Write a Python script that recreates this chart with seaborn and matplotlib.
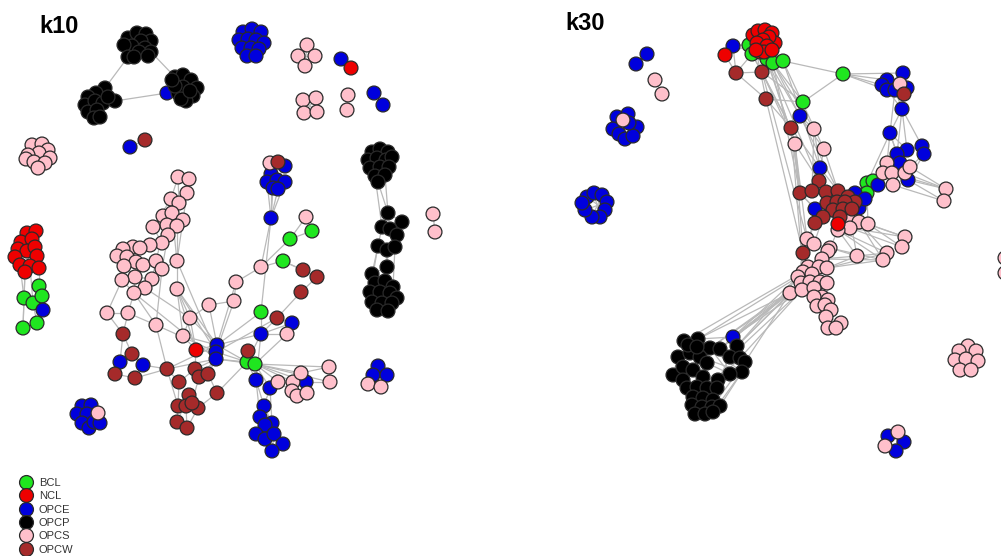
import re
import numpy as np
import pandas as pd
import matplotlib
matplotlib.use("Agg")
import matplotlib.pyplot as plt
from matplotlib.collections import LineCollection
import seaborn as sns

# ---------------- categories / colours ----------------
groups = ["BCL", "NCL", "OPCE", "OPCP", "OPCS", "OPCW"]
group_colors = ["#1fe61f", "#ee0000", "#0000dd", "#000000", "#ffc0cb", "#a52a2a"]
draw_rank = ["BCL", "OPCE", "OPCS", "OPCW", "NCL", "OPCP"]
panel_titles = ["k10", "k30"]

# ---------------- k10 network: node layout ----------------
k10_bt = [(128, 38), (137, 33), (146, 34), (151, 41), (141, 41), (132, 46), (124, 45),
          (145, 48), (151, 52), (139, 52), (128, 57), (134, 57), (148, 56)]
k10_bl = [(105, 88), (96, 93), (88, 97), (85, 105), (95, 101), (103, 103), (115, 101),
          (88, 112), (97, 110), (94, 118), (100, 117), (108, 97)]
k10_br = [(175, 77), (183, 75), (191, 80), (197, 88), (193, 96), (186, 101), (178, 93),
          (183, 87), (175, 86), (181, 99), (190, 91), (172, 80)]
k10_bct = [(372, 152), (380, 149), (388, 152), (368, 160), (377, 158), (386, 160), (392, 157),
           (370, 168), (380, 167), (389, 167), (375, 176), (385, 175), (378, 182)]
k10_bcm = [(388, 213), (382, 227), (402, 222), (390, 229), (397, 235), (378, 246), (387, 250),
           (395, 247), (387, 267), (372, 274)]
k10_bcb = [(375, 283), (385, 281), (393, 287), (370, 292), (380, 292), (390, 293), (397, 298),
           (372, 302), (382, 303), (392, 303), (377, 310), (388, 311)]
k10_tb = [(243, 32), (252, 29), (261, 32), (239, 40), (248, 39), (256, 40), (264, 43),
          (242, 48), (251, 48), (259, 49), (247, 56), (256, 56)]
k10_bx = [(167, 93), (341, 59), (374, 93), (383, 105), (130, 147), (43, 310)]
k10_bu = [(285, 166), (271, 174), (267, 182), (277, 180), (285, 182), (273, 188), (278, 189)]
k10_bm = [(120, 362), (143, 365), (217, 345), (216, 352), (216, 359), (261, 334), (292, 323),
          (256, 380), (270, 388), (306, 382), (271, 218)]
k10_bb = [(264, 406), (260, 417), (272, 423), (265, 425), (256, 434), (265, 439), (274, 434),
          (283, 444), (272, 451)]
k10_blb = [(82, 406), (91, 405), (77, 414), (87, 414), (82, 423), (89, 428), (94, 422), (100, 423)]
k10_rcb = [(378, 366), (373, 375), (387, 375)]
k10_rx = [(351, 68), (196, 350)]
k10_red = [(27, 233), (36, 231), (21, 242), (32, 239), (18, 249), (27, 251), (35, 247),
           (15, 257), (37, 256), (20, 265), (30, 266), (39, 268), (25, 272)]
k10_gr = [(39, 286), (24, 298), (33, 303), (42, 296), (23, 328), (37, 323)]
k10_gm = [(261, 312), (247, 362), (255, 364), (312, 231), (290, 239), (283, 261)]
k10_pa = [(307, 45), (298, 56), (315, 56), (305, 66), (303, 100), (316, 98), (304, 113),
          (317, 112), (348, 95), (347, 110), (433, 214), (435, 232)]
k10_pl = [(32, 145), (42, 144), (48, 150), (39, 153), (28, 155), (50, 158), (26, 159),
          (34, 162), (45, 163), (38, 168)]
k10_pk = [(178, 177), (189, 179), (187, 193), (171, 199), (179, 203), (163, 216), (172, 213),
          (183, 220), (167, 225), (177, 226), (153, 227), (168, 235), (162, 243), (150, 245),
          (133, 247), (140, 248), (123, 249), (117, 256), (127, 257), (136, 262), (143, 265),
          (124, 266), (156, 261), (162, 269), (177, 261), (135, 277), (122, 280), (152, 279),
          (145, 288), (134, 293), (177, 289), (107, 313), (128, 313), (156, 325), (190, 318),
          (183, 336), (209, 305), (234, 301), (236, 282), (261, 267)]
k10_pr = [(287, 334), (278, 382), (293, 382), (301, 373), (292, 391), (297, 396), (307, 393),
          (329, 367), (330, 382)]
k10_px = [(306, 217), (270, 163), (98, 413), (368, 384), (381, 387)]
k10_bw = [(123, 334), (132, 354), (115, 374), (135, 378), (167, 369), (179, 382), (195, 369),
          (199, 377), (208, 374), (217, 393), (189, 395), (178, 406), (186, 406), (198, 408),
          (192, 403), (177, 422), (187, 428), (277, 318), (248, 351), (301, 292), (317, 277),
          (303, 270)]
k10_wx = [(145, 140), (278, 162)]

k10_clusters = {
    "bt": ("OPCP", k10_bt), "bl": ("OPCP", k10_bl), "br": ("OPCP", k10_br),
    "bct": ("OPCP", k10_bct), "bcm": ("OPCP", k10_bcm), "bcb": ("OPCP", k10_bcb),
    "tb": ("OPCE", k10_tb), "bx": ("OPCE", k10_bx), "bu": ("OPCE", k10_bu),
    "bm": ("OPCE", k10_bm), "bb": ("OPCE", k10_bb), "blb": ("OPCE", k10_blb),
    "rcb": ("OPCE", k10_rcb), "rx": ("NCL", k10_rx), "red": ("NCL", k10_red),
    "gr": ("BCL", k10_gr), "gm": ("BCL", k10_gm), "pa": ("OPCS", k10_pa),
    "pl": ("OPCS", k10_pl), "pk": ("OPCS", k10_pk), "pr": ("OPCS", k10_pr),
    "px": ("OPCS", k10_px), "bw": ("OPCW", k10_bw), "wx": ("OPCW", k10_wx),
}

k10_edges = """
pa0-pa3 pa1-pa2 pa0-pa1 pa4-pa7 pa5-pa6 pa8-pa9 pa10-pa11 bx1-rx0 bx2-bx3 bx4-wx0
bt10-bl0 bt8-br0 bl6-bx0 bx0-br8 bt0-bt4 bt4-bt7 bt5-bt9 bt9-bt11 bt1-bt4
bl0-bl4 bl4-bl6 bl1-bl5 bl5-bl8 br0-br7 br7-br10 br6-br9 tb1-tb4 tb4-tb8 tb8-tb10
pl0-pl3 pl1-pl4 pl4-pl8
red0-red3 red3-red5 red2-red4 red4-red7 red5-red9 red6-red8 red8-red11 red9-red12
red12-gr1 red10-gr2 red11-gr0 red9-gr1 red12-gr4 gr1-gr4 gr2-gr5 gr0-gr3 gr3-bx5 gr1-gr2
bct4-bct9 bct9-bct11 bct12-bcm0 bct11-bcm0 bct10-bcm1 bcm0-bcm1 bcm0-bcm2 bcm1-bcm3
bcm3-bcm4 bcm1-bcm5 bcm5-bcm6 bcm6-bcm7 bcm4-bcm7 bcm6-bcm8 bcm8-bcm9 bcm5-bcm9
bcm2-bcm4 bcm9-bcb0 bcm8-bcb1 bcm5-bcb3 bcm7-bcb2 bcm6-bcb1 bcm9-bcb3 bcb4-bcb8 bcb1-bcb4
pk0-pk1 pk0-pk3 pk0-pk4 pk1-pk2 pk2-pk4 pk2-pk7 pk3-pk6 pk4-pk6 pk4-pk9 pk5-pk6 pk5-pk8
pk6-pk7 pk7-pk9 pk8-pk9 pk8-pk11 pk9-pk11 pk10-pk12 pk10-pk5 pk11-pk12 pk12-pk13
pk13-pk15 pk14-pk15 pk14-pk16 pk15-pk18 pk16-pk17 pk17-pk18 pk18-pk19 pk19-pk20
pk17-pk21 pk21-pk25 pk19-pk25 pk20-pk22 pk22-pk23 pk23-pk24 pk24-pk30 pk22-pk27
pk25-pk27 pk27-pk28 pk28-pk29 pk25-pk29 pk26-pk29 pk26-pk31 pk31-pk32 pk29-pk32
pk32-pk33 pk21-pk26 pk3-pk10 pk12-pk14 pk3-pk22 pk6-pk24 pk9-pk24 pk11-pk23 pk30-pk35
pk28-pk34 pk34-pk35 pk30-pk34 pk36-pk37 pk37-pk38 pk36-pk34 pk38-pk39 pk23-pk33
pk29-pk33 pk7-pk24
bw0-pk31 bw0-pk32 bw0-bw1 bw1-bm0 bw1-bm1 bw2-bm0 bw2-bw3 bw3-bm1 bm1-bw4 bw3-bw4
bw0-bm0 bw4-bm2 bw4-bw5 bw5-bw6 bw6-bw7 bw7-bw8 bw6-rx1 bw7-bw14 bw14-bw10 bw14-bw12
bw12-bw13 bw11-bw15 bw12-bw16 bw15-bw16 bw10-bw15 bw13-bw16 bw11-bw14 bw9-gm1 bw9-bw13
bw8-bm3 bw7-bm4 bw5-bw11 bw4-bw11 bw8-bw9 rx1-bm2 rx1-bm3 rx1-pk34 rx1-pk35 rx1-pk30
bw4-pk33
bm2-pk34 bm2-pk36 bm2-pk35 bm3-pk30 bm2-pk38 bm3-gm1 bm2-gm1 bm4-gm2 bm4-bw4 bm3-pk33
bm2-bm3 bm3-bm4 bm4-bw8 bm2-bm5 bm3-pk37 pk30-bm2 pk24-bm3 pk29-bm4 bm4-bw6 bm3-bw17
bm2-gm0
gm1-gm2 gm1-bw18 gm2-bw18 gm2-pr0 gm2-pr7 gm2-pr8 gm2-pr3 gm1-bm7 gm2-bm8 gm2-pr2
gm2-pr1 gm1-bm5 bm5-gm0 bm5-pr0 bm5-bm6 bm5-bm7 gm0-bm10 bm5-bw17 bw17-bw19 bw19-bw20
bw20-bw21 bw21-gm5 gm5-pk39 pk39-gm4 gm4-gm3 gm4-px0 pk39-bm10 bw20-gm5 bm6-pr0
bm6-bw17 gm1-bm4 gm2-bm9
bu5-bm10 bu6-bm10 bu2-bm10 bu4-bm10 bu1-bm10 bu0-bu3 px1-bu1 wx1-bu3 bu3-bu5
pr1-pr2 pr2-pr4 pr3-bm9 bm9-pr6 pr4-pr5 pr5-pr6 pr3-pr7 pr2-pr8 bm8-pr1 bm7-bm8
bm7-bb0 bm7-bb1 bm8-bb0 pr7-pr8 pr2-pr3 pr1-pr4
bb0-bb1 bb1-bb2 bb1-bb3 bb3-bb4 bb3-bb5 bb2-bb6 bb6-bb7 bb5-bb8 bb6-bb8 bb0-bb2 bm8-bb2
blb0-blb3 blb1-blb3 blb3-blb6 blb2-blb4 px2-blb6
rcb0-rcb1 rcb0-rcb2 rcb1-px3 rcb2-px4
"""

# ---------------- k30 network: node layout ----------------
k30_Tg = [(749, 45), (752, 54), (767, 59), (773, 63), (783, 61), (843, 74), (803, 102),
          (867, 183), (873, 181), (867, 193)]
k30_Tr = [(753, 35), (758, 31), (765, 30), (772, 33), (775, 43), (769, 37), (763, 40),
          (757, 43), (767, 46), (760, 52), (764, 52), (772, 50), (756, 50), (725, 55), (838, 224)]
k30_Tb = [(733, 46), (800, 116), (820, 168), (815, 209), (855, 193), (859, 208), (865, 199)]
k30_Tbr = [(903, 73), (887, 80), (882, 85), (887, 90), (895, 90), (907, 88), (902, 109), (890, 133)]
k30_Tbm = [(922, 146), (924, 154), (907, 150), (897, 154), (900, 163), (908, 180), (878, 185)]
k30_Tbk = [(733, 337)]
k30_Tbp = [(647, 54), (636, 64)]
k30_Tbq = [(617, 117), (628, 114), (637, 127), (613, 129), (619, 134), (625, 139), (633, 136), (629, 123)]
k30_Tbz = [(587, 197), (594, 193), (602, 195), (607, 202), (605, 210), (600, 217), (592, 217),
           (585, 210), (582, 203)]
k30_Tbx = [(888, 436), (904, 442), (896, 451)]
k30_Tw = [(736, 73), (762, 72), (766, 99), (791, 128), (904, 94), (819, 181), (800, 193),
          (812, 191), (826, 192), (838, 191), (848, 197), (855, 202), (827, 203), (837, 202),
          (845, 202), (833, 210), (843, 209), (852, 209), (840, 217), (823, 217), (815, 223),
          (803, 253)]
k30_Tp = [(814, 129), (795, 144), (824, 149), (887, 163), (883, 173), (892, 173), (905, 173),
          (893, 185), (910, 167), (946, 189), (944, 201), (900, 84), (850, 218), (859, 222),
          (868, 224), (850, 228), (838, 230), (807, 239), (814, 244), (830, 248), (857, 256),
          (905, 237), (902, 247), (887, 253), (883, 260), (828, 251), (822, 259), (808, 267),
          (819, 267), (827, 268), (803, 272), (812, 274), (798, 277), (801, 283), (810, 282),
          (820, 282), (827, 283), (790, 293), (802, 290), (814, 288), (822, 297), (814, 297),
          (828, 300), (817, 306), (825, 305), (831, 310), (826, 317), (841, 323), (828, 328),
          (836, 328)]
k30_Tpi = [(655, 80), (662, 94), (623, 120), (898, 432), (885, 446), (1005, 258), (1005, 273)]
k30_Tpc = [(968, 346), (976, 351), (959, 351), (955, 360), (966, 359), (978, 361), (960, 370), (971, 370)]
k30_Tk = [(684, 341), (698, 339), (710, 348), (720, 349), (737, 346), (678, 357), (690, 353),
          (700, 357), (707, 363), (730, 357), (740, 358), (745, 362), (742, 372), (730, 374),
          (718, 380), (673, 375), (683, 367), (693, 370), (703, 377), (683, 380), (687, 388),
          (697, 387), (707, 388), (717, 388), (693, 397), (703, 398), (713, 400), (692, 405),
          (702, 407), (712, 407), (720, 406), (695, 414), (705, 414), (713, 412), (688, 345),
          (697, 347)]

k30_clusters = {
    "Tg": ("BCL", k30_Tg), "Tr": ("NCL", k30_Tr), "Tb": ("OPCE", k30_Tb),
    "Tbr": ("OPCE", k30_Tbr), "Tbm": ("OPCE", k30_Tbm), "Tbk": ("OPCE", k30_Tbk),
    "Tbp": ("OPCE", k30_Tbp), "Tbq": ("OPCE", k30_Tbq), "Tbz": ("OPCE", k30_Tbz),
    "Tbx": ("OPCE", k30_Tbx), "Tw": ("OPCW", k30_Tw), "Tp": ("OPCS", k30_Tp),
    "Tpi": ("OPCS", k30_Tpi), "Tpc": ("OPCS", k30_Tpc), "Tk": ("OPCP", k30_Tk),
}

k30_edges = """
Tr13-Tw0 Tr13-Tb0 Tr13-Tg0 Tb0-Tg0 Tb0-Tw0 Tw0-Tw1 Tw0-Tg1 Tw1-Tg1 Tw1-Tg2 Tw0-Tw2
Tw2-Tg6 Tg6-Tg5 Tg4-Tg5 Tg3-Tg4 Tg2-Tg3 Tg1-Tg2 Tg0-Tr7 Tg1-Tr12 Tg2-Tr10 Tg3-Tr11
Tg4-Tr11 Tg5-Tbr1 Tg5-Tbr2 Tg5-Tbr3 Tg5-Tbr0 Tg6-Tb1 Tg6-Tg3 Tg6-Tw1 Tb0-Tr7
Tr0-Tr6 Tr1-Tr5 Tr2-Tr8 Tr3-Tr11 Tr4-Tr10 Tr7-Tr9 Tr6-Tr8
Tw1-Tw3 Tw2-Tw3 Tg2-Tb1 Tg3-Tp0 Tg4-Tp2 Tg2-Tw5 Tg3-Tw6 Tw1-Tp1 Tw3-Tp1 Tw3-Tb2
Tb1-Tp0 Tb1-Tp2 Tp0-Tb2 Tp2-Tb2 Tp1-Tw6 Tp1-Tw5 Tp0-Tw7 Tp2-Tw9 Tb2-Tw5 Tb2-Tw8
Tw3-Tw6 Tg1-Tw3 Tg2-Tp1 Tw1-Tp17 Tw2-Tw21 Tp1-Tp17 Tw3-Tp30 Tp1-Tw21 Tg4-Tb2 Tg3-Tw9
Tr10-Tp1 Tr12-Tw2
Tbr0-Tbr4 Tbr1-Tbr3 Tbr2-Tbr4 Tbr3-Tbr6 Tbr4-Tbr6 Tbr5-Tbr6 Tbr0-Tbr6 Tbr6-Tbr7
Tbr4-Tbr7 Tbr7-Tbm2 Tbr7-Tbm3 Tbr7-Tbm4 Tbr6-Tbm2 Tbr6-Tbm3 Tbr7-Tg7 Tbr7-Tp3
Tbr6-Tbm0 Tp11-Tbr4 Tw4-Tbr5 Tw4-Tbr3
Tbm0-Tbm1 Tbm0-Tbm2 Tbm2-Tbm3 Tbm3-Tp3 Tbm3-Tbm4 Tp3-Tp4 Tp4-Tp5 Tp5-Tp6 Tp6-Tbm5
Tp7-Tbm6 Tp5-Tp7 Tbm4-Tp8 Tbm1-Tp8 Tp6-Tp9 Tp7-Tp10 Tp5-Tp9 Tbm5-Tp10 Tbm5-Tp9
Tp8-Tp9 Tbm1-Tbm5
Tg7-Tg8 Tg7-Tg9 Tg8-Tg9 Tg9-Tw11 Tg7-Tb6 Tg8-Tp4 Tg8-Tbm6 Tg9-Tb5 Tg7-Tbm6 Tg9-Tw17
Tg7-Tw10 Tg8-Tp3 Tg7-Tb4 Tg9-Tp14
Tw5-Tw8 Tw6-Tw7 Tw7-Tw8 Tw8-Tw9 Tw9-Tw10 Tw10-Tw11 Tw12-Tw13 Tw13-Tw14 Tw15-Tw16
Tw16-Tw17 Tw18-Tw19 Tw19-Tw20 Tw12-Tw15 Tw13-Tw16 Tw15-Tw18 Tw8-Tw12 Tw9-Tw13
Tw10-Tw14 Tw11-Tw17 Tw14-Tw17 Tw6-Tw19 Tw3-Tw6 Tb2-Tw9 Tb3-Tw6 Tb3-Tw20 Tb4-Tw11
Tb5-Tw17 Tb2-Tw5 Tw5-Tw7 Tb6-Tw11
Tr14-Tp16 Tr14-Tw18 Tw18-Tp12 Tw17-Tp13 Tw17-Tp14 Tp12-Tp15 Tp15-Tp16 Tw20-Tp17
Tp17-Tp18 Tp18-Tp19 Tp16-Tp19 Tp14-Tp21 Tp14-Tp22 Tp13-Tp23 Tp13-Tp24 Tp12-Tp20
Tp20-Tp23 Tp19-Tp20 Tp21-Tp22 Tp23-Tp24 Tp15-Tp21 Tp16-Tp20 Tp16-Tp24 Tp19-Tp24
Tw21-Tp17 Tp15-Tp22 Tp12-Tp21 Tw19-Tp18 Tp16-Tp23 Tw20-Tw21
Tp18-Tp25 Tp19-Tp25 Tp25-Tp26 Tp26-Tp28 Tp26-Tp29 Tp27-Tp28 Tp27-Tp30 Tp30-Tp31
Tp31-Tp34 Tp32-Tp33 Tp33-Tp34 Tp34-Tp35 Tp35-Tp36 Tp30-Tp32 Tp33-Tp37 Tp37-Tp38
Tp38-Tp39 Tp39-Tp40 Tp40-Tp41 Tp41-Tp43 Tp40-Tp42 Tp42-Tp45 Tp43-Tp44 Tp44-Tp45
Tp45-Tp46 Tp46-Tp47 Tp46-Tp48 Tp48-Tp49 Tp47-Tp49 Tp28-Tp35 Tp29-Tp36 Tw21-Tp32
Tw21-Tp27 Tp19-Tp26 Tp20-Tp26 Tp24-Tp26 Tp23-Tp29 Tp20-Tp29 Tp25-Tp28 Tp31-Tp39
Tp35-Tp40 Tp36-Tp42 Tp38-Tp41 Tp19-Tp28 Tp24-Tp29
Tbk0-Tp37 Tbk0-Tp33 Tbk0-Tp32 Tbk0-Tp38 Tk4-Tp37 Tk4-Tp33 Tk3-Tp37 Tk10-Tp38
Tk1-Tp32 Tk0-Tp30 Tk2-Tp37 Tk3-Tp33 Tk11-Tp37 Tk4-Tp30 Tk2-Tp33 Tbk0-Tk3 Tbk0-Tk4
Tbk0-Tk1 Tk1-Tp37 Tk9-Tp38
Tk2-Tk13 Tk3-Tk13 Tk9-Tk14 Tk7-Tk12 Tk8-Tk13 Tk2-Tk12 Tk14-Tk26 Tk13-Tk23 Tk12-Tk30
Tk11-Tk29 Tk4-Tk12 Tk10-Tk14 Tk0-Tk1 Tk1-Tk2 Tk5-Tk15 Tk16-Tk20 Tk18-Tk25 Tk21-Tk27
Tk22-Tk28 Tk12-Tk33
Tbz0-Tbz4 Tbz2-Tbz6 Tbz1-Tbz5 Tbz3-Tbz7 Tbq0-Tbq6 Tbq1-Tbq4 Tpi2-Tbq5 Tbq3-Tbq7
Tbx0-Tbx1 Tpi3-Tbx2 Tpi4-Tbx1 Tbp0-Tbp1 Tpi0-Tpi1 Tpi5-Tpi6 Tpc0-Tpc6 Tpc2-Tpc5 Tpc1-Tpc7
"""

# ---------------- assemble ----------------
rows = []
lookup = {}
for panel, clusters in ((panel_titles[0], k10_clusters), (panel_titles[1], k30_clusters)):
    for name, (grp, pts) in clusters.items():
        for i, (px, py) in enumerate(pts):
            lookup[f"{name}{i}"] = (px, py)
            rows.append({"panel": panel, "x": px, "y": py, "group": grp})
nodes = pd.DataFrame(rows)
nodes["rank"] = nodes["group"].map({g: i for i, g in enumerate(draw_rank)})
nodes = nodes.sort_values("rank", kind="stable")

segments = []
for txt in (k10_edges, k30_edges):
    for tok in txt.split():
        a, b = tok.split("-")
        segments.append([lookup[a], lookup[b]])

# ---------------- draw ----------------
sns.set_theme(style="white")
plt.rcParams["font.family"] = ["Liberation Sans", "DejaVu Sans"]

fig = plt.figure(figsize=(10.01, 5.56), dpi=100)
ax = fig.add_axes([0, 0, 1, 1])

lc = LineCollection(segments, colors="#b9b9b9", linewidths=0.9, zorder=1)
ax.add_collection(lc)

sns.scatterplot(data=nodes, x="x", y="y", hue="group", hue_order=groups,
                palette=dict(zip(groups, group_colors)), s=100,
                edgecolor="#2a2a2a", linewidth=0.9, ax=ax, zorder=3, legend=True)

ax.set_xlim(0, 1001)
ax.set_ylim(556, 0)
ax.set_axis_off()

ax.text(39, 33, panel_titles[0], fontsize=17, fontweight="bold", color="black")
ax.text(565, 30, panel_titles[1], fontsize=17, fontweight="bold", color="black")

sns.move_legend(ax, "upper left", bbox_to_anchor=(0.015, 1 - 478 / 556), title=None,
                frameon=False, fontsize=8, labelspacing=0.3, handletextpad=0.15,
                borderpad=0, borderaxespad=0, markerscale=1.0)
for t in ax.get_legend().get_texts():
    t.set_color("#333333")

fig.savefig("out.png", dpi=100)
